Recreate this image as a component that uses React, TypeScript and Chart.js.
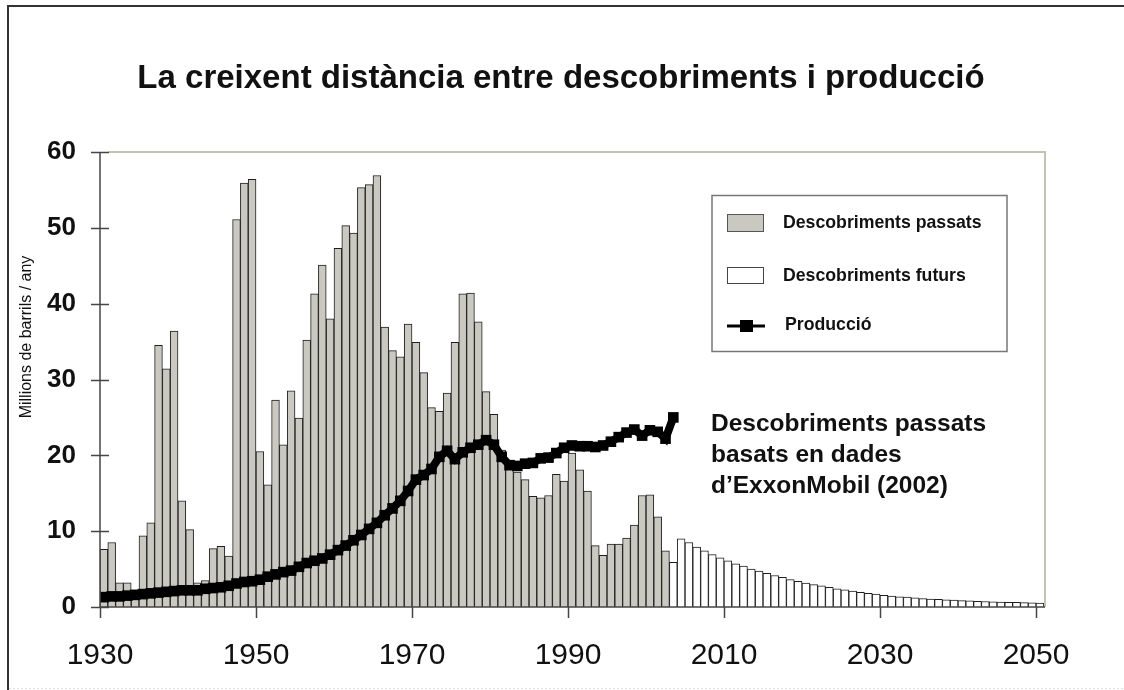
import React, { useEffect, useRef } from 'react';
import { Chart, registerables } from 'chart.js';

Chart.register(...registerables);

const TITLE = 'La creixent distància entre descobriments i producció';
const Y_TITLE = 'Millions de barrils / any';
const NOTE_LINES = ['Descobriments passats', 'basats en dades', 'd’ExxonMobil (2002)'];
const LEGEND_LABELS = ['Descobriments passats', 'Descobriments futurs', 'Producció'];
const X_TICKS = [1930, 1950, 1970, 1990, 2010, 2030, 2050];
const Y_TICKS = [0, 10, 20, 30, 40, 50, 60];

// Descobriments passats, 1930..2002
const PAST_START = 1930;
const PAST = [
  7.6, 8.5, 3.2, 3.2, 1.8, 9.4, 11.1, 34.5, 31.4, 36.4,
  14.0, 10.2, 3.2, 3.5, 7.7, 8.0, 6.7, 51.1, 55.9, 56.4,
  20.5, 16.1, 27.3, 21.4, 28.5, 24.9, 35.2, 41.3, 45.1, 38.0,
  47.3, 50.3, 49.3, 55.3, 55.7, 56.9, 36.9, 33.8, 33.0, 37.3,
  34.9, 30.9, 26.3, 25.8, 28.2, 34.9, 41.3, 41.4, 37.6, 28.4,
  25.4, 20.7, 19.0, 17.8, 16.8, 14.6, 14.4, 14.7, 17.5, 16.6,
  20.3, 18.1, 15.3, 8.1, 6.8, 8.3, 8.3, 9.1, 10.8, 14.7,
  14.8, 11.9, 7.4,
];

// Descobriments futurs, 2003..2050
const FUTURE_START = 2003;
const FUTURE = [
  5.9, 9.0, 8.5, 7.9, 7.4, 6.9, 6.5, 6.1, 5.7, 5.4,
  5.0, 4.75, 4.45, 4.15, 3.9, 3.6, 3.4, 3.15, 2.95, 2.8,
  2.6, 2.4, 2.25, 2.1, 1.95, 1.8, 1.7, 1.55, 1.45, 1.35,
  1.3, 1.2, 1.1, 1.05, 1.0, 0.95, 0.9, 0.85, 0.8, 0.75,
  0.72, 0.68, 0.65, 0.62, 0.6, 0.57, 0.55, 0.52,
];

// Producció, 1930..2003
const PROD_START = 1930;
const PRODUCTION = [
  1.3, 1.4, 1.4, 1.5, 1.6, 1.7, 1.8, 1.9, 2.0, 2.1,
  2.2, 2.2, 2.2, 2.4, 2.5, 2.6, 2.8, 3.1, 3.3, 3.4,
  3.6, 4.0, 4.3, 4.6, 4.8, 5.3, 5.8, 6.1, 6.4, 6.9,
  7.5, 8.1, 8.8, 9.5, 10.3, 11.1, 12.1, 13.0, 14.0, 15.3,
  16.8, 17.4, 18.2, 19.8, 20.6, 19.5, 20.4, 21.0, 21.4, 22.0,
  21.4, 19.8, 18.7, 18.6, 18.9, 19.0, 19.6, 19.7, 20.3, 21.0,
  21.3, 21.2, 21.2, 21.1, 21.3, 21.8, 22.4, 23.0, 23.4, 22.6,
  23.3, 23.1, 22.2, 25.0,
];

const FONT = '"Liberation Sans", Arial, sans-serif';
const PAST_FILL = '#c9c9c1';

const toPoints = (start: number, vals: number[]) =>
  vals.map((v, i) => ({ x: start + i + 0.5, y: v }));

const extras = {
  id: 'extras',
  beforeDraw(chart: any) {
    const { ctx, width, height } = chart;
    ctx.save();
    ctx.fillStyle = '#ffffff';
    ctx.fillRect(0, 0, width, height);
    ctx.restore();
  },
  afterDraw(chart: any) {
    const { ctx, chartArea: a, scales } = chart;
    const x = scales.x;
    const y = scales.y;
    ctx.save();

    // outer frame
    ctx.fillStyle = '#333333';
    ctx.fillRect(7, 5, 1124 - 7, 2);
    ctx.fillRect(7, 5, 2, 690 - 5);
    ctx.strokeStyle = '#dcdce4';
    ctx.lineWidth = 1;
    ctx.setLineDash([2, 2]);
    ctx.beginPath();
    ctx.moveTo(9, 688.5);
    ctx.lineTo(1124, 688.5);
    ctx.stroke();

    // plot top/right border
    ctx.strokeStyle = '#c2c4b2';
    ctx.lineWidth = 2;
    ctx.setLineDash([]);
    ctx.beginPath();
    ctx.moveTo(a.left + 8, a.top);
    ctx.lineTo(a.right, a.top);
    ctx.lineTo(a.right, a.bottom);
    ctx.stroke();

    // axes
    ctx.strokeStyle = '#454545';
    ctx.lineWidth = 1.5;
    ctx.beginPath();
    ctx.moveTo(a.left, a.top);
    ctx.lineTo(a.left, a.bottom);
    ctx.lineTo(a.right, a.bottom);
    ctx.stroke();
    ctx.beginPath();
    Y_TICKS.forEach((v) => {
      const py = Math.round(y.getPixelForValue(v)) + 0.5;
      ctx.moveTo(a.left - 9, py);
      ctx.lineTo(a.left + 9, py);
    });
    X_TICKS.forEach((v) => {
      const px = Math.round(x.getPixelForValue(v)) + 0.5;
      ctx.moveTo(px, a.bottom);
      ctx.lineTo(px, a.bottom + 11);
    });
    ctx.stroke();

    // title
    ctx.fillStyle = '#111111';
    ctx.font = `bold 33px ${FONT}`;
    ctx.textAlign = 'center';
    ctx.textBaseline = 'alphabetic';
    ctx.fillText(TITLE, 561, 88);

    // y axis title
    ctx.save();
    ctx.translate(27, 337);
    ctx.rotate(-Math.PI / 2);
    ctx.font = `16px ${FONT}`;
    ctx.textBaseline = 'middle';
    ctx.textAlign = 'center';
    ctx.fillText(Y_TITLE, 0, 0);
    ctx.restore();

    // legend
    ctx.strokeStyle = '#777777';
    ctx.lineWidth = 1.5;
    ctx.strokeRect(712, 195.5, 295, 156);
    ctx.fillStyle = PAST_FILL;
    ctx.fillRect(727, 214, 36, 17);
    ctx.strokeStyle = '#555555';
    ctx.lineWidth = 1;
    ctx.strokeRect(727.5, 214.5, 36, 17);
    ctx.fillStyle = '#ffffff';
    ctx.fillRect(727, 267, 36, 16);
    ctx.strokeStyle = '#444444';
    ctx.strokeRect(727.5, 267.5, 36, 16);
    ctx.strokeStyle = '#000000';
    ctx.lineWidth = 3;
    ctx.beginPath();
    ctx.moveTo(727, 326);
    ctx.lineTo(765, 326);
    ctx.stroke();
    ctx.fillStyle = '#000000';
    ctx.fillRect(740, 320, 13, 12);
    ctx.fillStyle = '#111111';
    ctx.font = `bold 17.7px ${FONT}`;
    ctx.textAlign = 'left';
    ctx.textBaseline = 'middle';
    ctx.fillText(LEGEND_LABELS[0], 783, 223);
    ctx.fillText(LEGEND_LABELS[1], 783, 276);
    ctx.fillText(LEGEND_LABELS[2], 785, 325);

    // note
    ctx.font = `bold 24.5px ${FONT}`;
    ctx.textBaseline = 'alphabetic';
    NOTE_LINES.forEach((t, i) => ctx.fillText(t, 711, 431 + i * 31));

    ctx.restore();
  },
};

export default function App() {
  const ref = useRef<HTMLCanvasElement | null>(null);

  useEffect(() => {
    if (!ref.current) return;
    const chart = new Chart(ref.current, {
      type: 'bar',
      data: {
        datasets: [
          {
            type: 'line',
            label: LEGEND_LABELS[2],
            data: toPoints(PROD_START, PRODUCTION),
            borderColor: '#000000',
            backgroundColor: '#000000',
            borderWidth: 8,
            pointStyle: 'rect',
            pointRadius: 7.5,
            pointBorderWidth: 0,
            pointBackgroundColor: '#000000',
            tension: 0,
            order: 0,
          } as any,
          {
            type: 'bar',
            label: LEGEND_LABELS[0],
            data: toPoints(PAST_START, PAST),
            backgroundColor: PAST_FILL,
            borderColor: '#1e1e1e',
            borderWidth: 1,
            grouped: false,
            barPercentage: 1,
            categoryPercentage: 1,
            order: 1,
          } as any,
          {
            type: 'bar',
            label: LEGEND_LABELS[1],
            data: toPoints(FUTURE_START, FUTURE),
            backgroundColor: '#ffffff',
            borderColor: '#1e1e1e',
            borderWidth: 1,
            grouped: false,
            barPercentage: 1,
            categoryPercentage: 1,
            order: 1,
          } as any,
        ],
      },
      options: {
        responsive: false,
        animation: false,
        events: [],
        layout: { padding: { top: 152, right: 79, left: 0, bottom: 0 } },
        plugins: {
          legend: { display: false },
          title: { display: false },
          tooltip: { enabled: false },
        },
        scales: {
          x: {
            type: 'linear',
            min: 1930,
            max: 2051.15,
            offset: false,
            grid: { display: false, drawTicks: false },
            border: { display: false },
            afterFit: (s: any) => { s.height = 83; },
            afterBuildTicks: (s: any) => { s.ticks = X_TICKS.map((v) => ({ value: v })); },
            ticks: {
              color: '#111111',
              font: { family: FONT, size: 30, lineHeight: 1.2 },
              padding: 31,
              maxRotation: 0,
              autoSkip: false,
              callback: (v: any) => String(v),
            },
          },
          y: {
            type: 'linear',
            min: 0,
            max: 60,
            grid: { display: false, drawTicks: false },
            border: { display: false },
            afterFit: (s: any) => { s.width = 100; },
            afterBuildTicks: (s: any) => { s.ticks = Y_TICKS.map((v) => ({ value: v })); },
            ticks: {
              color: '#111111',
              font: { family: FONT, size: 26, weight: 'bold' },
              padding: 24,
              callback: (v: any) => String(v),
            },
          },
        },
      } as any,
      plugins: [extras],
    });
    return () => chart.destroy();
  }, []);

  return (
    <div style={{ position: 'fixed', left: 0, top: 0, width: 1124, height: 690, background: '#fff' }}>
      <canvas ref={ref} width={1124} height={690} style={{ display: 'block' }} />
    </div>
  );
}
